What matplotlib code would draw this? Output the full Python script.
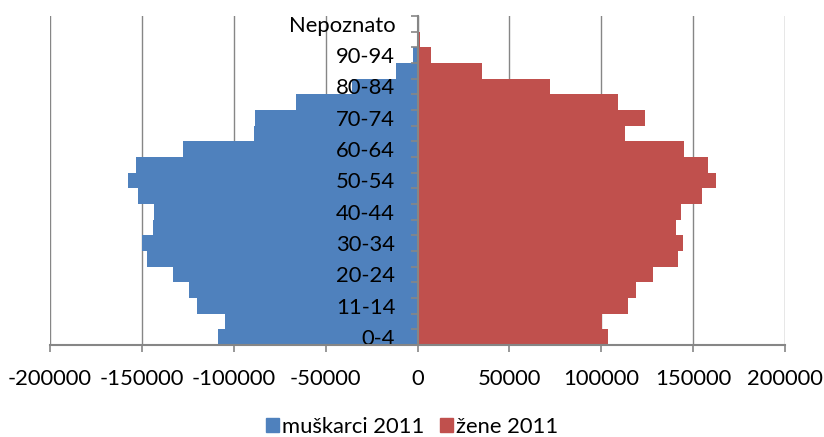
# -*- coding: utf-8 -*-
'''
Populacijska piramida 2011 (muškarci / žene)
'''

import numpy as np
import matplotlib
matplotlib.use('Agg')
import matplotlib.pyplot as plt
from matplotlib.patches import Patch


# dobne skupine (odozdo prema gore)
dobne_skupine = ['0-4', '5-9', '11-14', '15-19', '20-24', '25-29', '30-34',
                 '35-39', '40-44', '45-49', '50-54', '55-59', '60-64', '65-69',
                 '70-74', '75-79', '80-84', '85-89', '90-94', '95+', 'Nepoznato']

# broj stanovnika, ocitano sa slike
muskarci = [108800, 104600, 120200, 124500, 133200, 147000, 149700,
            143900, 143500, 152000, 157500, 153100, 127600, 88900,
            88700, 66100, 35500, 11800, 2500, 400, 0]
zene = [103500, 100200, 114700, 119100, 128300, 141700, 144600,
        140800, 143300, 154900, 162400, 158000, 144800, 112700,
        123600, 109200, 72200, 35300, 7500, 1600, 0]

x_ticks = [-200000, -150000, -100000, -50000, 0, 50000, 100000, 150000, 200000]

plava = '#4F81BD'
crvena = '#C0504D'
siva = '#868686'

plt.rcParams['font.family'] = ['Lato', 'DejaVu Sans']
plt.rcParams['font.size'] = 15.8

fig = plt.figure(figsize=(8.24, 4.37), dpi=100)
ax = fig.add_axes([50/824, 1-345/437, 735/824, 329/437])

y = np.arange(len(dobne_skupine))
ax.barh(y, -np.array(muskarci), height=1.0, color=plava, zorder=1)
ax.barh(y, zene, height=1.0, color=crvena, zorder=1)

ax.set_xlim(-200000, 200000)
ax.set_ylim(-0.5, len(dobne_skupine)-0.5)

# mreza ispod stupaca, oznake iznad
for v in x_ticks:
    ax.axvline(v, color=siva, linewidth=1.0, zorder=0)
ax.set_xticks(x_ticks)
ax.set_xticklabels([str(v) for v in x_ticks])

# osi
for s in ['top', 'right']:
    ax.spines[s].set_visible(False)
ax.spines['left'].set_position(('data', 0))
ax.spines['left'].set_color(siva)
ax.spines['bottom'].set_color(siva)
ax.spines['bottom'].set_linewidth(1.5)
ax.spines['left'].set_linewidth(1.5)

ax.tick_params(axis='x', direction='out', length=5, width=1.2, color=siva, pad=12)

# oznake svake druge skupine
ax.set_yticks(y[::2])
ax.set_yticklabels(dobne_skupine[::2])
ax.set_yticks(np.arange(-0.5, len(dobne_skupine)), minor=True)
ax.tick_params(axis='y', which='major', length=0, pad=16)
ax.tick_params(axis='y', which='minor', direction='out', length=5, width=1.2, color=siva)

# legenda
handles = [Patch(color=plava, label='muškarci 2011'),
           Patch(color=crvena, label='žene 2011')]
fig.legend(handles=handles, loc='center', bbox_to_anchor=(0.5, 1-427/437), ncol=2,
           frameon=False, handlelength=0.6, handleheight=0.6, handletextpad=0.15,
           columnspacing=0.7, borderpad=0)

plt.savefig('out.png', dpi=100)
